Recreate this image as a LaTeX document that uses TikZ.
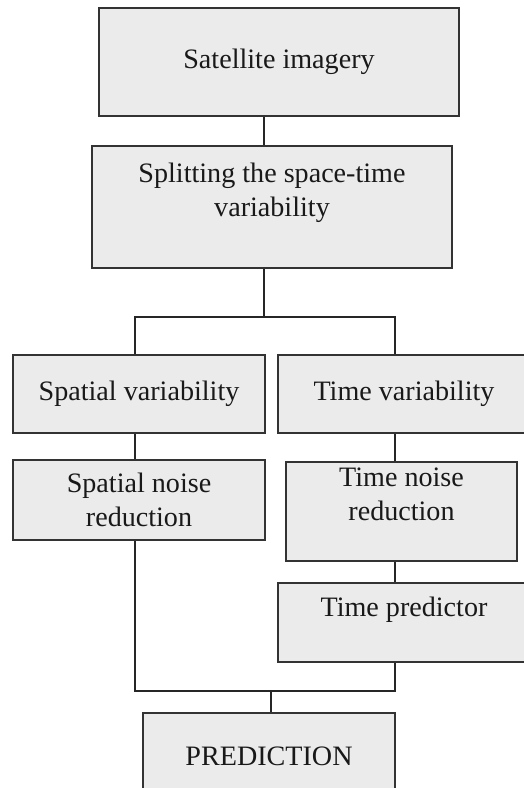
\documentclass[tikz,border=0pt]{standalone}
\usepackage{fontspec}
\setmainfont{Liberation Serif}
\usepackage{tikz}
\usetikzlibrary{positioning}
\tikzstyle{kasten} = [draw=black!80, fill=black!8, line width=0.8pt, rectangle,
	align=center, inner sep=0pt, text=black!90,
	font=\fontsize{16}{19.5}\selectfont]
\tikzstyle{linie} = [line width=1.1pt, black!85]
\begin{document}
\begin{tikzpicture}
		\useasboundingbox (0,0) rectangle (10.48,-15.76);
		\node[kasten, minimum width=7.2cm, minimum height=2.16cm] (sat) at (5.58,-1.24) {Satellite imagery};		% Satellitenbilder
		\node[kasten, minimum width=7.2cm, minimum height=2.44cm, text depth=19.5pt, below of=sat, node distance=2.9cm, xshift=-0.14cm] (split) {Splitting the space-time\\variability};
		\node[kasten, minimum width=5.04cm, minimum height=1.56cm, below of=split, node distance=3.74cm, xshift=-2.66cm] (spatvar) {Spatial variability};
		\node[kasten, minimum width=5.04cm, minimum height=1.56cm, right of=spatvar, node distance=5.3cm] (timevar) {Time variability};
		\node[kasten, minimum width=5.04cm, minimum height=1.6cm, below of=spatvar, node distance=2.12cm] (spatnoise) {Spatial noise\\reduction};
		\node[kasten, minimum width=4.62cm, minimum height=1.98cm, text depth=19.5pt, below of=timevar, node distance=2.35cm, xshift=-0.05cm] (timenoise) {Time noise\\reduction};
		\node[kasten, minimum width=5.04cm, minimum height=1.58cm, text depth=17.5pt, below of=timenoise, node distance=2.22cm, xshift=0.05cm] (timepred) {Time predictor};
		\node[kasten, minimum width=5.04cm, minimum height=1.74cm, below of=split, node distance=10.99cm, xshift=-0.06cm] (pred) {PREDICTION};	% Vorhersage

		\coordinate (gabel) at (5.28,-6.34);		% Verzweigung oben
		\coordinate (links) at (2.7,-6.34);
		\coordinate (rechts) at (7.9,-6.34);
		\coordinate (unten-l) at (2.7,-13.82);		% Zusammenfuehrung unten
		\coordinate (unten-r) at (7.9,-13.82);
		\coordinate (mitte) at (5.42,-13.82);

		% Verbindungen
		\draw[linie] (sat.south -| gabel) -- (split.north -| gabel);
		\draw[linie] (split.south -| gabel) -- (gabel);
		\draw[linie] (spatvar.north -| links) -- (links) -- (rechts) -- (timevar.north -| rechts);
		\draw[linie] (spatvar.south -| links) -- (spatnoise.north -| links);
		\draw[linie] (timevar.south -| rechts) -- (timenoise.north -| rechts);
		\draw[linie] (timenoise.south -| rechts) -- (timepred.north -| rechts);
		\draw[linie] (spatnoise.south -| unten-l) -- (unten-l) -- (unten-r) -- (timepred.south -| unten-r);
		\draw[linie] (mitte) -- (pred.north -| mitte);
\end{tikzpicture}
\end{document}
